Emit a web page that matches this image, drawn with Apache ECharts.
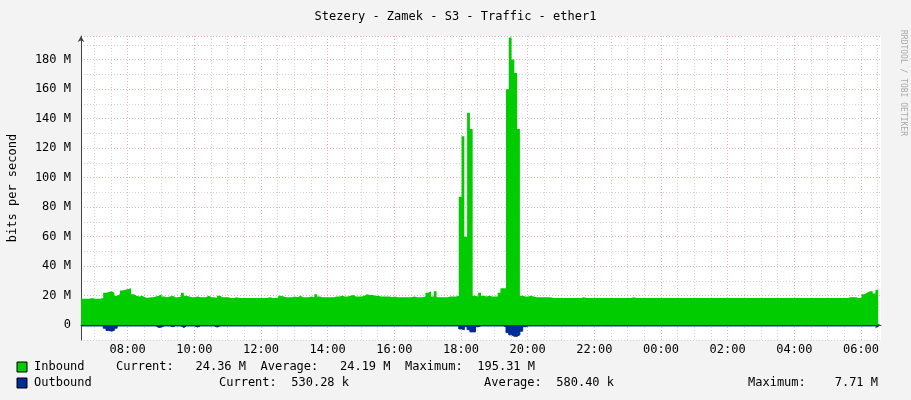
<!DOCTYPE html>
<html><head><meta charset="utf-8">
<script src="https://cdn.jsdelivr.net/npm/echarts@6/dist/echarts.min.js"></script>
<style>html,body{margin:0;padding:0;background:#f3f3f3}#c{width:911px;height:400px}</style>
</head><body><div id="c"></div>
<script>
const title = "Stezery - Zamek - S3 - Traffic - ether1";
const startTime = "2024-01-01T06:36:00";
const stepMinutes = 5;
// Inbound, Mbit/s
const inbound = [
18,18,18,18.5,18,18,18,18.5,22,22.5,23,22,20,
21,23.5,24,24.5,25,21,20,19.5,20,19,18.5,19,
19,19.5,20,21,19.5,19,19.5,20,19,19,19.5,22,
20,19.5,19,19,19.5,19,19,19,20,19,19,18.5,
20,19,19,19,18.5,18.5,19,18.5,18.5,18.5,18.5,18.5,
18.5,18.5,18.5,18.5,18.5,18.5,19,18.5,18.5,18.5,20,19.5,19,
19,19,19.5,19,20,19,19,19,19.5,19,21,19.5,
19,19,19,19,19,19.5,19.5,20,19.5,19.5,20,20.5,
19.5,19.5,19.5,20,21,20.5,20.5,20,20,19.5,19.5,19.5,
19.5,19,19.5,19,19,19,19,19,19,19.5,19,19,
19,19.5,22,23,19.5,23,19,19,19,19,19.5,19.5,
19.5,20,
87,128,60,144,133,20,
19.5,22,20,19.5,20,19.5,19.5,19.5,22,
25,25,160,195,180,171,133,20,
19.5,19.5,20,19.5,19,19,19,19,19,19,18.5,18.5,
18.5,18.5,18.5,18.5,18.5,18.5,18.5,18.5,18.5,19,18.5,18.5,
18.5,18.5,18.5,18.5,18.5,18.5,18.5,18.5,18.5,18.5,18.5,18.5,
18.5,18.5,18.5,19,18.5,18.5,18.5,18.5,18.5,18.5,18.5,18.5,
18.5,18.5,18.5,18.5,18.5,18.5,18.5,18.5,18.5,18.5,18.5,18.5,
18.5,18.5,18.5,18.5,18.5,18.5,18.5,18.5,18.5,18.5,18.5,18.5,
18.5,18.5,18.5,18.5,18.5,18.5,18.5,18.5,18.5,18.5,18.5,18.5,
18.5,18.5,18.5,18.5,18.5,18.5,18.5,18.5,18.5,18.5,18.5,18.5,
18.5,18.5,18.5,18.5,18.5,18.5,18.5,18.5,18.5,18.5,18.5,18.5,
18.5,18.5,18.5,18.5,18.5,18.5,18.5,18.5,18.5,
19,19,19,18.5,18.5,21,22,23,23,21.5,24,24
];
// Outbound, Mbit/s, drawn below zero
const outbound = [
-0.5,-0.5,-0.5,-0.5,-0.5,-0.5,-0.5,-0.5,-2,-3.5,-4,-3.5,-2,
-0.5,-0.5,-0.5,-0.5,-0.5,-0.5,-0.5,-0.5,-0.5,-0.5,-0.5,-0.5,
-0.5,-0.5,-1.5,-1.2,-0.5,-0.5,-0.5,-1,-0.5,-0.5,-0.5,-1.5,
-0.5,-0.5,-0.5,-0.5,-1.2,-0.5,-0.5,-0.5,-0.5,-0.5,-0.5,-1.2,
-0.5,-0.5,-0.5,-0.5,-0.5,-0.5,-0.5,-0.5,-0.5,-0.5,-0.5,-0.5,
-0.5,-0.5,-0.5,-0.5,-0.5,-0.5,-0.5,-0.5,-0.5,-0.5,-0.5,-0.5,
-0.5,-0.5,-0.5,-0.5,-0.5,-0.5,-0.5,-0.5,-0.5,-0.5,-0.5,-0.5,
-0.5,-0.5,-0.5,-0.5,-0.5,-0.5,-0.5,-0.5,-0.5,-0.5,-0.5,-0.5,
-0.5,-0.5,-0.5,-0.5,-0.5,-0.5,-0.5,-0.5,-0.5,-0.5,-0.5,-0.5,
-0.5,-0.5,-0.5,-0.5,-0.5,-0.5,-0.5,-0.5,-0.5,-0.5,-0.5,-0.5,
-0.5,-0.5,-0.5,-0.5,-0.5,-0.5,-0.5,-0.5,-0.5,-0.5,-0.5,-0.5,
-0.5,-0.5,-0.5,-2.5,-3,-1,-3,-4.5,-4.5,-1,-0.5,-0.5,
-0.5,-0.5,-0.5,-0.5,-0.5,-0.5,-0.5,-1,-5,-6.5,-7.5,-7.5,
-6.5,-4,-1,-0.5,-0.5,-0.5,-0.5,-0.5,-0.5,-0.5,-0.5,-0.5,
-0.5,-0.5,-0.5,-0.5,-0.5,-0.5,-0.5,-0.5,-0.5,-0.5,-0.5,-0.5,
-0.5,-0.5,-0.5,-0.5,-0.5,-0.5,-0.5,-0.5,-0.5,-0.5,-0.5,-0.5,
-0.5,-0.5,-0.5,-0.5,-0.5,-0.5,-0.5,-0.5,-0.5,-0.5,-0.5,-0.5,
-0.5,-0.5,-0.5,-0.5,-0.5,-0.5,-0.5,-0.5,-0.5,-0.5,-0.5,-0.5,
-0.5,-0.5,-0.5,-0.5,-0.5,-0.5,-0.5,-0.5,-0.5,-0.5,-0.5,-0.5,
-0.5,-0.5,-0.5,-0.5,-0.5,-0.5,-0.5,-0.5,-0.5,-0.5,-0.5,-0.5,
-0.5,-0.5,-0.5,-0.5,-0.5,-0.5,-0.5,-0.5,-0.5,-0.5,-0.5,-0.5,
-0.5,-0.5,-0.5,-0.5,-0.5,-0.5,-0.5,-0.5,-0.5,-0.5,-0.5,-0.5,
-0.5,-0.5,-0.5,-0.5,-0.5,-0.5,-0.5,-0.5,-0.5,-0.5,-0.5,-0.5,
-0.5,-0.5,-0.5,-0.5,-0.5,-0.5,-0.5,-0.5,-0.5,-0.5,-0.5
];
const inboundStats = "Current:   24.36 M  Average:   24.19 M  Maximum:  195.31 M";
const outCurrent = "Current:  530.28 k";
const outAverage = "Average:  580.40 k";
const outMaximum = "Maximum:    7.71 M";

const t0 = new Date(startTime).getTime();
const step = stepMinutes*60000;
const TICK = 6*60000;           // 6-minute ticks so that min (06:36) is a multiple
const toPairs = arr => arr.map((v,i)=>[t0+i*step, v*1e6]);
const xMin = t0;
const xMax = t0 + 24*3600000;
const MONO = '"DejaVu Sans Mono", monospace';
const pad = n => (n<10?'0':'')+n;
const T='rgba(0,0,0,0)', G='#d6d6d6', R='#f2b4b4';
const xLineColors=[T,T,T,T,G,T,T,T,T,G,T,T,T,T,R,T,T,T,T,G];

const chart = echarts.init(document.getElementById('c'));
chart.setOption({
  backgroundColor:'#f3f3f3',
  animation:false,
  title:{text:title,left:'center',top:6,textStyle:{fontFamily:MONO,fontSize:12,fontWeight:'normal',color:'#000'}},
  grid:{left:81,right:30,top:36,bottom:60,show:true,backgroundColor:'#fff',borderWidth:0,outerBoundsMode:'none',containLabel:false},
  xAxis:{type:'value',min:xMin,max:xMax,interval:TICK,
    axisLine:{lineStyle:{color:'#444'},symbol:['none','arrow'],symbolSize:[5,6]},
    axisTick:{show:false},
    axisLabel:{fontFamily:MONO,fontSize:12,color:'#000',margin:4,showMinLabel:false,showMaxLabel:false,hideOverlap:false,
      formatter:v=>{const d=new Date(v); if(d.getMinutes()!==0||d.getHours()%2) return ''; return pad(d.getHours())+':00';}},
    splitLine:{show:true,lineStyle:{color:xLineColors,type:[1,2]}}},
  yAxis:{type:'value',min:-10e6,max:196e6,interval:10e6,
    name:'bits per second',nameLocation:'middle',nameGap:62,nameRotate:90,
    nameTextStyle:{fontFamily:MONO,fontSize:12,color:'#000'},
    axisLine:{show:true,lineStyle:{color:'#444'},symbol:['none','arrow'],symbolSize:[5,6]},
    axisTick:{show:false},
    axisLabel:{fontFamily:MONO,fontSize:12,color:'#000',margin:10,
      formatter:v=>{const m=Math.round(v/1e6); if(m<0||m%20) return ''; return m===0?'0':m+' M';}},
    splitLine:{show:true,lineStyle:{color:[G,R],type:[1,2]}}},
  series:[
    {name:'Inbound',type:'line',step:'end',symbol:'none',data:toPairs(inbound),
      lineStyle:{width:0},areaStyle:{color:'#00cc00',opacity:1},z:2},
    {name:'Outbound',type:'line',step:'end',symbol:'none',data:toPairs(outbound),
      lineStyle:{width:1,color:'#002a97'},areaStyle:{color:'#002a97',opacity:1},z:3}
  ],
  graphic:[
    {type:'text',right:4,top:30,rotation:-Math.PI/2,style:{text:'RRDTOOL / TOBI OETIKER',fontFamily:MONO,fontSize:8,fill:'#aaa'}},
    {type:'rect',shape:{x:17,y:362,width:10,height:10},style:{fill:'#00cc00',stroke:'#000',lineWidth:1}},
    {type:'rect',shape:{x:17,y:378,width:10,height:10},style:{fill:'#002a97',stroke:'#000',lineWidth:1}},
    {type:'text',x:34,y:361,style:{text:'Inbound',fontFamily:MONO,fontSize:12,fill:'#000'}},
    {type:'text',x:116,y:361,style:{text:inboundStats,fontFamily:MONO,fontSize:12,fill:'#000'}},
    {type:'text',x:34,y:377,style:{text:'Outbound',fontFamily:MONO,fontSize:12,fill:'#000'}},
    {type:'text',x:219,y:377,style:{text:outCurrent,fontFamily:MONO,fontSize:12,fill:'#000'}},
    {type:'text',x:484,y:377,style:{text:outAverage,fontFamily:MONO,fontSize:12,fill:'#000'}},
    {type:'text',x:748,y:377,style:{text:outMaximum,fontFamily:MONO,fontSize:12,fill:'#000'}}
  ]
});
</script></body></html>
